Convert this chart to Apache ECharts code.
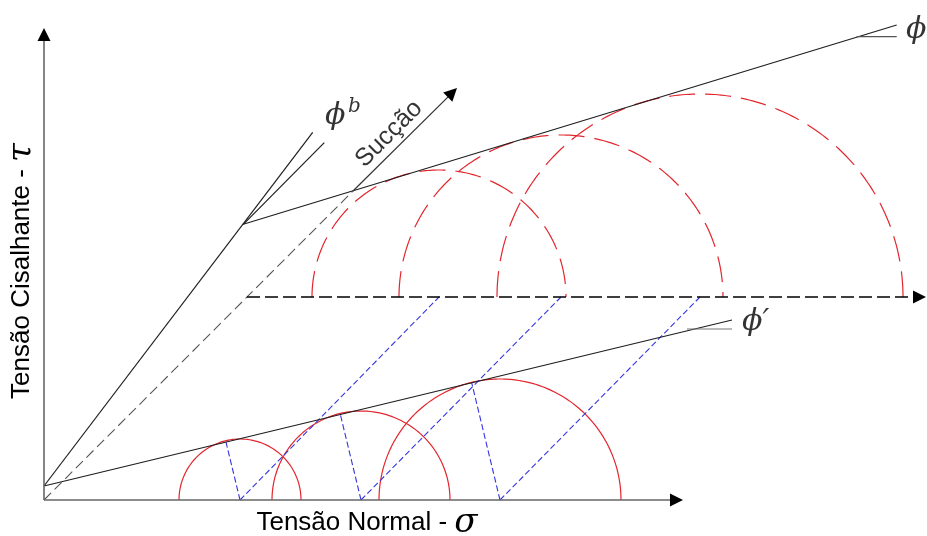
<!DOCTYPE html>
<html>
<head>
<meta charset="utf-8">
<script src="https://cdn.jsdelivr.net/npm/echarts@6/dist/echarts.min.js"></script>
<style>html,body{margin:0;padding:0;background:#fff}#c{width:927px;height:536px}</style>
</head>
<body>
<div id="c"></div>
<script>
// ---- data (diagram units: horizontal = normal stress, vertical = shear stress / suction projection) ----
const lowerCenters = [196, 317, 456];          // net normal stress circle centres (zero suction)
const lowerRadii = [61, 89, 121];
const upperCenters = [395, 517, 656];          // circle centres on the suction plane
const upperRadii = [127, 162, 203];
const suctionPlane = 203;                       // level of the suction plane
const sigmaAxisTip = [639, 0];
const tauAxisTip = [0, 472];
const suctionAxisBreak = [309, 309];
const suctionAxisTip = [413, 412];
const upperSigmaStart = [203, 203];
const upperSigmaTip = [882, 203];
const phiPrimeLine = [[0, 14], [688, 180]];
const phiPrimeLeader = [[643, 171], [688, 171]];
const phiBLine = [[0, 14], [268.7, 367.7]];
const suctionRefLine = [[199.3, 275.7], [280.3, 357.3]];
const phiLine = [[199.3, 275.7], [852.7, 475]];
const phiLeader = [[812.7, 463.3], [852.7, 463.3]];
const labelPhi = [862, 470];
const labelPhiPrime = [698, 178];
const labelPhiB = [281, 384];
const labelPhiBSup = [304, 393];
const labelSuccao = [345, 366];
const xTitle = 'Tensão Normal - ';
const xSymbol = 'σ';
const yTitle = 'Tensão Cisalhante - ';
const ySymbol = 'τ';

// ---- helpers ----
const RED = '#e3262e', BLUE = '#3535e0', BLACK = '#1e1e1e', AXIS = '#666';
function semicircle(cx, cy, r) {
  const pts = [];
  for (let i = 0; i <= 180; i++) {
    const a = Math.PI * i / 180;
    pts.push([cx + r * Math.cos(a), cy + r * Math.sin(a)]);
  }
  return pts.reverse();
}
function foot(p, a, b) {
  const dx = b[0] - a[0], dy = b[1] - a[1];
  const t = ((p[0] - a[0]) * dx + (p[1] - a[1]) * dy) / (dx * dx + dy * dy);
  return [a[0] + t * dx, a[1] + t * dy];
}
function back(from, tip, d) {
  const dx = tip[0] - from[0], dy = tip[1] - from[1];
  const L = Math.hypot(dx, dy);
  return [tip[0] - dx / L * d, tip[1] - dy / L * d];
}
function seg(pts, color, width, type, z) {
  return { type: 'line', data: pts, showSymbol: false, symbol: 'none', silent: true, animation: false,
    lineStyle: { color: color, width: width, type: type || 'solid' }, z: z || 2 };
}
// shaft drawn in its own colour, head drawn as a filled black triangle at the tip
function arrow(from, tip, color, width, type) {
  const end = back(from, tip, 6.5);
  return [
    seg([from, end], color, width, type, 5),
    { type: 'lines', coordinateSystem: 'cartesian2d', silent: true, animation: false, z: 6,
      symbol: ['none', 'triangle'], symbolSize: [9, 13],
      lineStyle: { color: '#000', width: 1, opacity: 1 },
      data: [{ coords: [back(from, tip, 8), end] }] }
  ];
}
function label(pos, text, style, rotate, position) {
  return { type: 'scatter', symbolSize: 0, silent: true, animation: false, z: 10,
    data: [pos],
    label: Object.assign({ show: true, formatter: text, position: position || 'right', distance: 0,
      rotate: rotate || 0, color: '#000' }, style) };
}

const series = [];
// lower (solid) circles
lowerCenters.forEach((c, i) => series.push(seg(semicircle(c, 0, lowerRadii[i]), RED, 1.2)));
// upper (dashed) circles
upperCenters.forEach((c, i) => series.push(seg(semicircle(c, suctionPlane, upperRadii[i]), RED, 1.2, [26, 10])));
// blue construction lines
lowerCenters.forEach((c, i) => {
  series.push(seg([[c, 0], foot([c, 0], phiPrimeLine[0], phiPrimeLine[1])], BLUE, 1.1, [6, 3], 3));
  series.push(seg([[c, 0], [upperCenters[i], suctionPlane]], BLUE, 1.1, [6, 3], 3));
});
// envelopes
series.push(seg(phiPrimeLine, BLACK, 1.2, 'solid', 4));
series.push(seg(phiPrimeLeader, '#777', 1.2, 'solid', 4));
series.push(seg(phiBLine, BLACK, 1.2, 'solid', 4));
series.push(seg(suctionRefLine, BLACK, 1.2, 'solid', 4));
series.push(seg(phiLine, BLACK, 1.2, 'solid', 4));
series.push(seg(phiLeader, '#555', 1.2, 'solid', 4));
// suction axis: dashed part then solid arrow
series.push(seg([[0, 0], suctionAxisBreak], '#555', 1.1, [10, 5], 4));
series.push(...arrow(suctionAxisBreak, suctionAxisTip, '#333', 1.2));
// upper sigma (dashed) axis
series.push(...arrow(upperSigmaStart, upperSigmaTip, '#000', 1.5, [13, 5]));
// main axes
series.push(...arrow([0, 0], sigmaAxisTip, AXIS, 1.6));
series.push(...arrow([0, 0], tauAxisTip, AXIS, 1.6));
// labels
const phiStyle = { fontFamily: 'DejaVu Serif', fontStyle: 'italic', fontSize: 30 };
series.push(label(labelPhi, 'ϕ', phiStyle));
series.push(label(labelPhiPrime, '{p|ϕ}{q|′}', Object.assign({}, phiStyle, {
  rich: { p: { fontFamily: 'DejaVu Serif', fontStyle: 'italic', fontSize: 30, color: '#000' },
          q: { fontFamily: 'DejaVu Sans', fontSize: 30, color: '#000' } } })));
series.push(label(labelPhiB, 'ϕ', phiStyle));
series.push(label(labelPhiBSup, 'b', { fontFamily: 'DejaVu Serif', fontStyle: 'italic', fontSize: 20 }));
series.push(label(labelSuccao, 'Sucção', { fontFamily: 'Liberation Sans', fontSize: 25 }, 45, 'inside'));

const chart = echarts.init(document.getElementById('c'), null, { renderer: 'canvas' });
chart.setOption({
  animation: false,
  backgroundColor: '#fff',
  grid: { left: 0, right: 0, top: 0, bottom: 0, containLabel: false },
  xAxis: { type: 'value', min: -44, max: 883, show: false },
  yAxis: { type: 'value', min: -36, max: 500, show: false },
  series: series,
  graphic: [
    { type: 'text', x: 367, y: 523, silent: true,
      style: { text: '{a|' + xTitle + '}{b|' + xSymbol + '}', align: 'center', verticalAlign: 'middle',
        rich: { a: { fontFamily: 'Liberation Sans', fontSize: 26, fill: '#000' },
                b: { fontFamily: 'DejaVu Serif', fontStyle: 'italic', fontSize: 34, fill: '#000' } } } },
    { type: 'text', x: 22, y: 271, rotation: Math.PI / 2, silent: true,
      style: { text: '{a|' + yTitle + '}{b|' + ySymbol + '}', align: 'center', verticalAlign: 'middle',
        rich: { a: { fontFamily: 'Liberation Sans', fontSize: 26, fill: '#000' },
                b: { fontFamily: 'DejaVu Serif', fontStyle: 'italic', fontSize: 34, fill: '#000' } } } }
  ]
});
</script>
</body>
</html>
